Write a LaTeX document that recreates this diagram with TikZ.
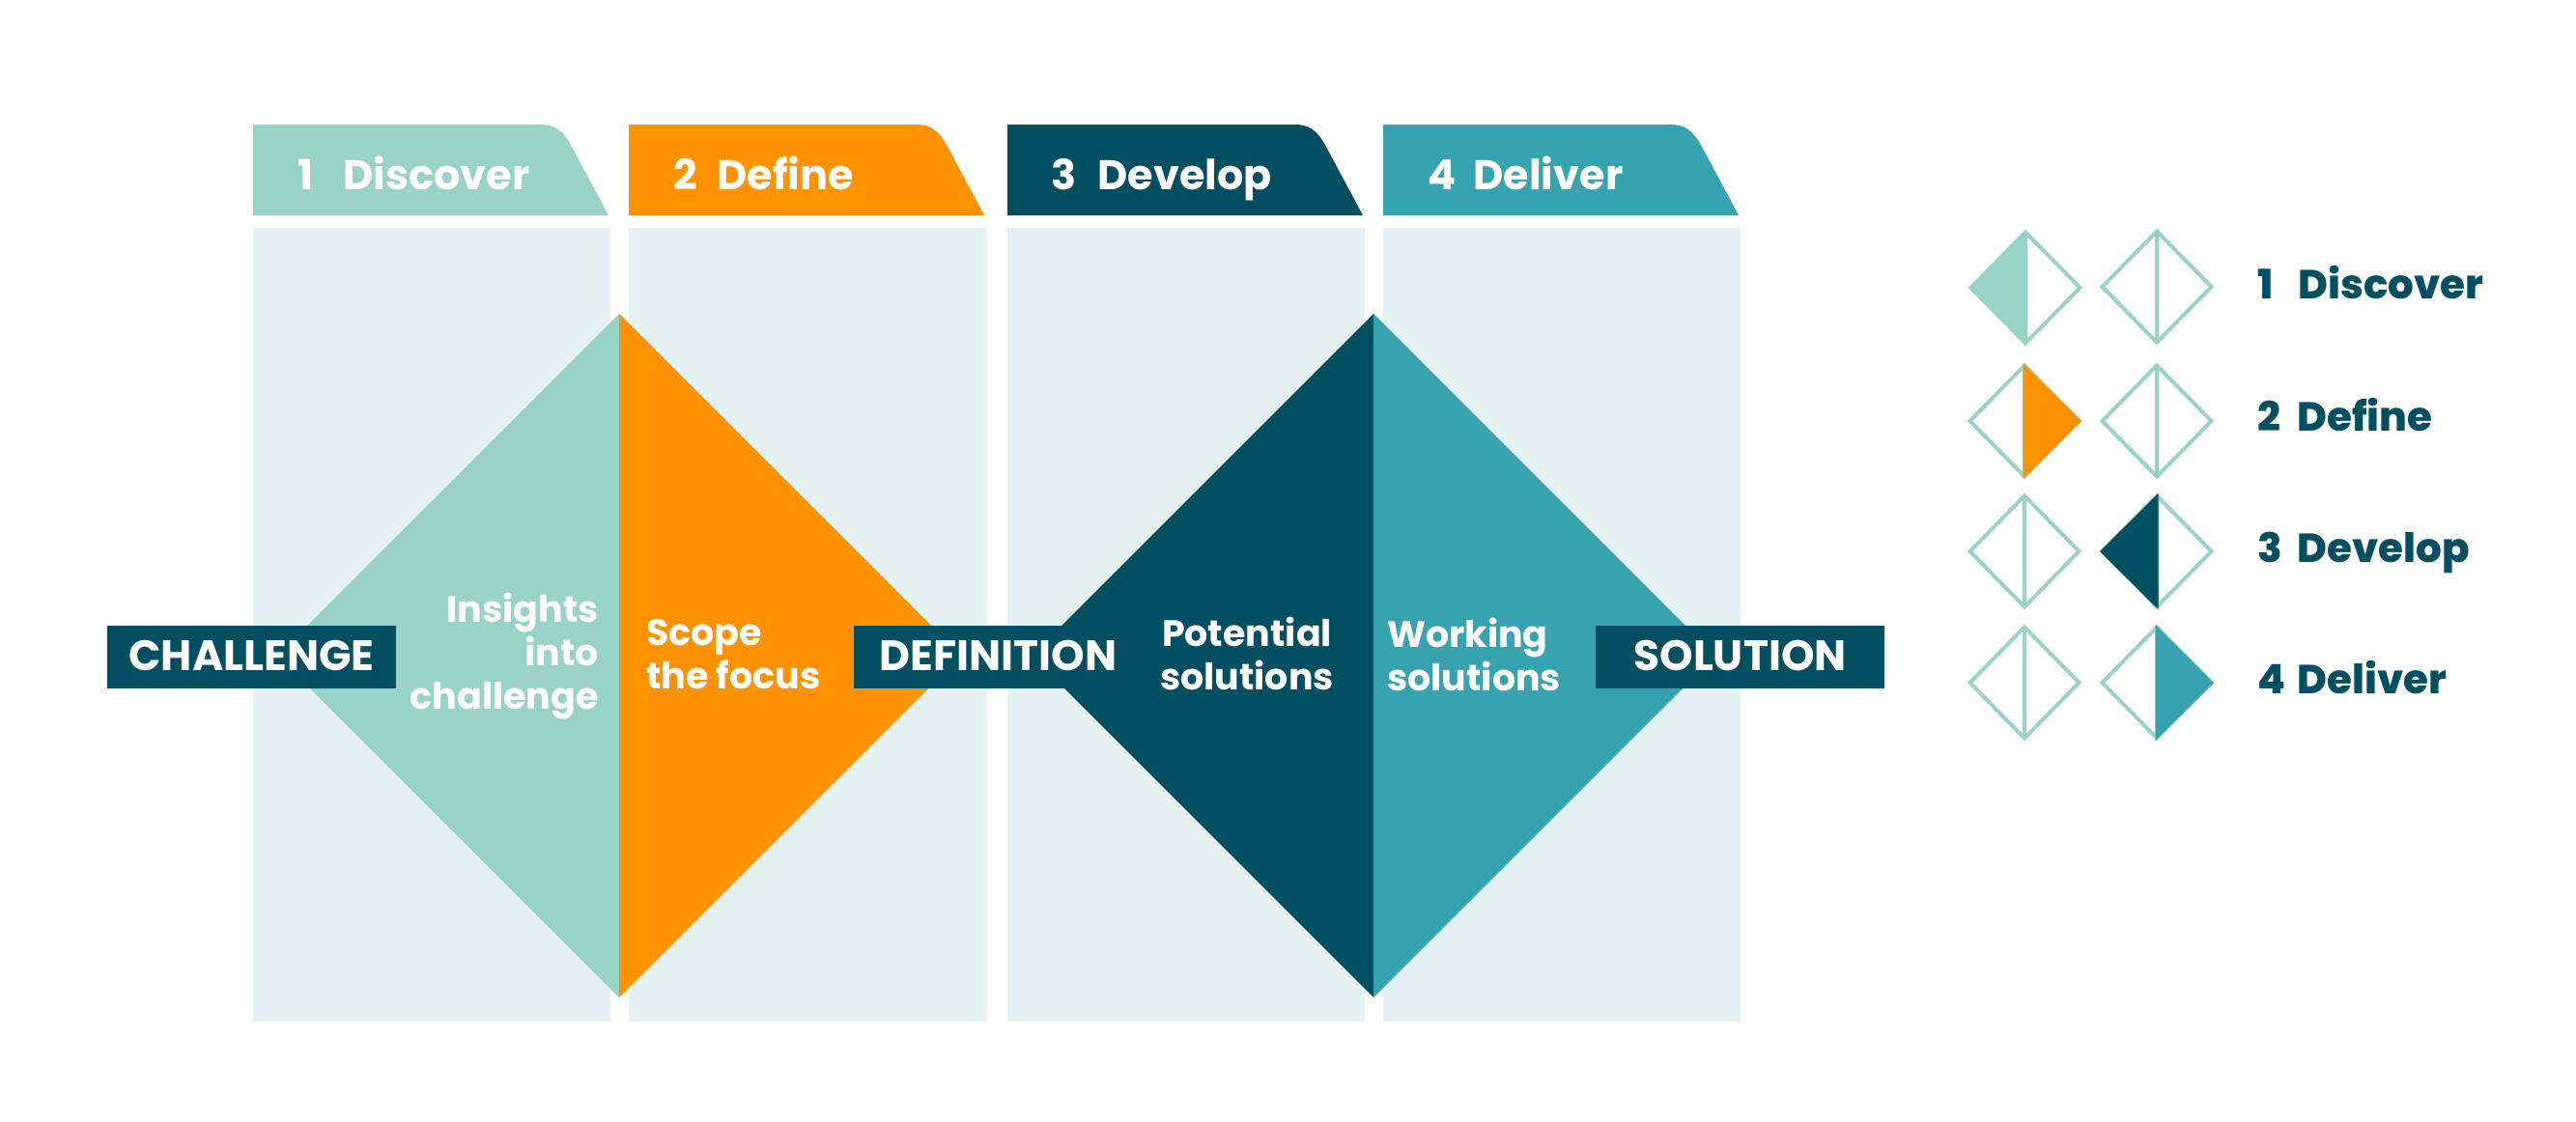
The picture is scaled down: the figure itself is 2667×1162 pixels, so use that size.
\documentclass[tikz,border=0pt]{standalone}
\usepackage{fontspec}
\setmainfont{Poppins}
\newfontfamily\legendfont{Poppins ExtraBold}
\usetikzlibrary{calc}
\definecolor{paleteal}{HTML}{E4F2F1}
\definecolor{lightteal}{HTML}{99D3C8}
\definecolor{brightorange}{HTML}{FF9200}
\definecolor{darkteal}{HTML}{024F62}
\definecolor{midteal}{HTML}{37A3B0}
\def\stagetab[#1](#2){\fill[#1] (#2, 129) -- ({#2+297}, 129) .. controls ({#2+312}, 129) and ({#2+320}, 134) .. ({#2+330}, 152) -- ({#2+368}, 223) -- (#2, 223) -- cycle;}
\def\legendmark(#1, #2){\draw[legendline] (#1, {#2-57.5}) -- ({#1+56.5}, #2) -- (#1, {#2+57.5}) -- ({#1-56.5}, #2) -- cycle (#1, {#2-57.5}) -- (#1, {#2+57.5});}
\tikzset{
	tablabel/.style={anchor=base west, text=white, font=\fontsize{43}{43}\selectfont\bfseries},
	legendlabel/.style={anchor=base west, text=darkteal, font=\fontsize{42}{42}\selectfont\legendfont},
	phasebox/.style={fill=darkteal, text=white, anchor=base, minimum width=299pt, minimum height=65pt, inner sep=0pt, text depth=19pt, text height=46pt, font=\fontsize{44}{44}\selectfont\bfseries},
	phasetext/.style={text=white, inner sep=0pt, font=\fontsize{38}{45}\selectfont\bfseries, align=left},
	legendline/.style={draw=lightteal, line width=4pt, line join=miter}
}

\begin{document}
\begin{tikzpicture}[x=1pt, y=-1pt]
		%%%%% START %%%%%
		\useasboundingbox (0, 0) rectangle (2667, 1162);
		
		\fill[paleteal] (262, 236) rectangle (632, 1058);
		\fill[paleteal] (651, 236) rectangle (1022, 1058);
		\fill[paleteal] (1043, 236) rectangle (1413, 1058);
		\fill[paleteal] (1432, 236) rectangle (1802, 1058);
		
		\stagetab[lightteal](262);
		\stagetab[brightorange](651);
		\stagetab[darkteal](1043);
		\stagetab[midteal](1432);
		\node[tablabel] (tabdiscover) at (305, 196) {\makebox[47pt][l]{1}Discover};
		\node[tablabel] (tabdefine) at (694, 196) {\makebox[45pt][l]{2}Define};
		\node[tablabel] (tabdevelop) at (1085, 196) {\makebox[48pt][l]{3}Develop};
		\node[tablabel] (tabdeliver) at (1475, 196) {\makebox[47pt][l]{4}Deliver};
		
		\fill[lightteal] (641, 325) -- (287, 679) -- (641, 1033) -- cycle;
		\fill[brightorange] (641, 325) -- (995, 679) -- (641, 1033) -- cycle;
		\fill[darkteal] (1422, 325) -- (1068, 679) -- (1422, 1033) -- cycle;
		\fill[midteal] (1422, 325) -- (1776, 679) -- (1422, 1033) -- cycle;
		
		\node[phasebox] (challenge) at (260.5, 694) {CHALLENGE};
		\node[phasebox] (definition) at (1033.5, 694) {DEFINITION};
		\node[phasebox] (solution) at (1801.5, 694) {SOLUTION};
		
		\node[phasetext, align=right, anchor=north east] (insights) at (620, 614) {Insights\\into\\challenge};
		\node[phasetext, anchor=north west] (scope) at (669, 641) {Scope\\the focus};
		\node[phasetext, align=center, anchor=north] (potential) at (1291, 639) {Potential\\solutions};
		\node[phasetext, anchor=north west] (working) at (1436, 640) {Working\\solutions};
		
		\legendmark(2097, 298);
		\legendmark(2233, 297);
		\legendmark(2096, 436);
		\legendmark(2233, 436);
		\legendmark(2096, 571);
		\legendmark(2233, 571);
		\legendmark(2096, 707);
		\legendmark(2233, 707);
		
		\fill[lightteal] (2098.5, 238) -- (2038, 298) -- (2098.5, 358) -- cycle;
		\fill[brightorange] (2094.5, 376) -- (2155, 436) -- (2094.5, 496) -- cycle;
		\fill[darkteal] (2234.5, 511) -- (2174, 571) -- (2234.5, 631) -- cycle;
		\fill[midteal] (2231.5, 647) -- (2292, 707) -- (2231.5, 767) -- cycle;
		
		\node[legendlabel] (keydiscover) at (2334, 309) {\makebox[42pt][l]{1}Discover};
		\node[legendlabel] (keydefine) at (2334, 446) {\makebox[41pt][l]{2}Define};
		\node[legendlabel] (keydevelop) at (2334, 582) {\makebox[41pt][l]{3}Develop};
		\node[legendlabel] (keydeliver) at (2334, 718) {\makebox[41pt][l]{4}Deliver};
		%%%%% END %%%%%
	\end{tikzpicture}
\end{document}
